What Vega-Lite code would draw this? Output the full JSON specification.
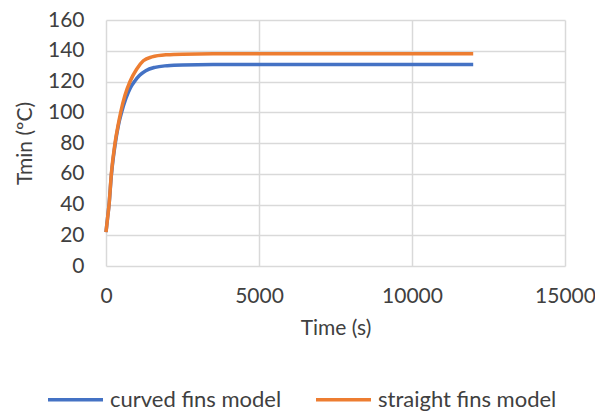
{
  "$schema": "https://vega.github.io/schema/vega-lite/v6.json",
  "width": 459,
  "height": 246,
  "autosize": {"type": "none"},
  "padding": {"left": 106, "top": 20, "right": 30, "bottom": 146},
  "background": "white",
  "config": {
    "font": "Lato",
    "view": {"stroke": null},
    "axis": {"labelFont": "Lato", "titleFont": "Lato", "labelColor": "#404040", "titleColor": "#404040", "titleFontWeight": "normal", "labelFlush": false}
  },
  "data": {
    "values": [
      {"t": 0, "T": 22, "s": "curved fins model"},
      {"t": 50, "T": 31, "s": "curved fins model"},
      {"t": 100, "T": 40, "s": "curved fins model"},
      {"t": 175, "T": 59, "s": "curved fins model"},
      {"t": 305, "T": 80, "s": "curved fins model"},
      {"t": 400, "T": 91, "s": "curved fins model"},
      {"t": 510, "T": 100, "s": "curved fins model"},
      {"t": 650, "T": 109, "s": "curved fins model"},
      {"t": 800, "T": 116, "s": "curved fins model"},
      {"t": 950, "T": 120.5, "s": "curved fins model"},
      {"t": 1100, "T": 124, "s": "curved fins model"},
      {"t": 1300, "T": 127, "s": "curved fins model"},
      {"t": 1600, "T": 129.2, "s": "curved fins model"},
      {"t": 2000, "T": 130.3, "s": "curved fins model"},
      {"t": 2500, "T": 130.8, "s": "curved fins model"},
      {"t": 3500, "T": 131, "s": "curved fins model"},
      {"t": 12000, "T": 131, "s": "curved fins model"},
      {"t": 0, "T": 22, "s": "straight fins model"},
      {"t": 50, "T": 31, "s": "straight fins model"},
      {"t": 100, "T": 40, "s": "straight fins model"},
      {"t": 175, "T": 60, "s": "straight fins model"},
      {"t": 295, "T": 80, "s": "straight fins model"},
      {"t": 390, "T": 91, "s": "straight fins model"},
      {"t": 480, "T": 100, "s": "straight fins model"},
      {"t": 620, "T": 111, "s": "straight fins model"},
      {"t": 785, "T": 120, "s": "straight fins model"},
      {"t": 1000, "T": 128, "s": "straight fins model"},
      {"t": 1220, "T": 133.5, "s": "straight fins model"},
      {"t": 1500, "T": 136, "s": "straight fins model"},
      {"t": 2000, "T": 137.4, "s": "straight fins model"},
      {"t": 2500, "T": 137.8, "s": "straight fins model"},
      {"t": 3500, "T": 138, "s": "straight fins model"},
      {"t": 12000, "T": 138, "s": "straight fins model"}
    ]
  },
  "mark": {"type": "line", "strokeWidth": 3.5, "interpolate": "monotone"},
  "encoding": {
    "x": {
      "field": "t", "type": "quantitative",
      "scale": {"domain": [0, 15000], "nice": false},
      "axis": {
        "values": [0, 5000, 10000, 15000], "format": "d",
        "title": "Time (s)", "titleFontSize": 21, "titlePadding": 11,
        "labelFontSize": 21, "labelPadding": 19, "ticks": false, "domain": false,
        "grid": true, "gridColor": "#D9D9D9", "gridWidth": 1.5
      }
    },
    "y": {
      "field": "T", "type": "quantitative",
      "scale": {"domain": [0, 160], "nice": false},
      "axis": {
        "values": [0, 20, 40, 60, 80, 100, 120, 140, 160],
        "title": "Tmin (ºC)", "titleFontSize": 21, "titlePadding": 12,
        "labelFontSize": 21, "labelPadding": 22, "ticks": false, "domain": false,
        "grid": true, "gridColor": "#D9D9D9", "gridWidth": 1.5
      }
    },
    "color": {
      "field": "s", "type": "nominal",
      "scale": {"domain": ["curved fins model", "straight fins model"], "range": ["#4472C4", "#ED7D31"]},
      "legend": {
        "title": null, "orient": "none", "direction": "horizontal",
        "legendX": -60, "legendY": 350,
        "symbolType": "stroke", "symbolSize": 3025, "symbolStrokeWidth": 3.5,
        "labelFontSize": 22, "labelFont": "Lato", "labelColor": "#404040",
        "labelOffset": 5, "columnPadding": 27, "labelLimit": 300
      }
    }
  }
}
